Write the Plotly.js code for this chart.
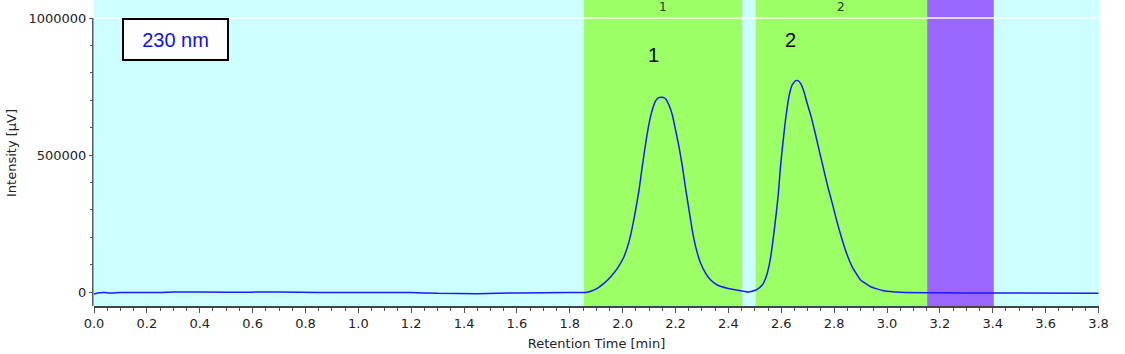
<!DOCTYPE html>
<html>
<head>
<meta charset="utf-8">
<script src="https://cdn.plot.ly/plotly-3.0.1.min.js"></script>
<style>html,body{margin:0;padding:0;background:#fff;}#chart{width:1125px;height:354px;}</style>
</head>
<body>
<div id="chart"></div>
<script>
// Chromatogram values (time in min, intensity in µV)
const retentionTime = [0.00,0.02,0.04,0.06,0.10,0.25,0.30,0.50,0.70,0.85,1.00,1.20,1.30,1.45,1.60,1.80,1.86,
  1.880,1.904,1.929,1.955,1.980,2.005,2.024,2.037,2.049,2.062,2.074,2.087,2.100,2.112,2.125,2.137,2.150,
  2.163,2.175,2.188,2.200,2.213,2.226,2.238,2.251,2.263,2.276,2.295,2.314,2.333,2.358,2.396,2.452,2.476,
  2.490,2.509,2.528,2.541,2.553,2.562,2.572,2.581,2.589,2.597,2.606,2.616,2.629,2.641,2.654,2.663,
  2.673,2.686,2.698,2.713,2.730,2.746,2.761,2.776,2.793,2.809,2.827,2.847,2.868,2.887,2.900,2.938,2.987,3.052,
  3.20,3.40,3.80];
const intensity = [-7000,-3000,-1500,-4000,-2000,-2000,0,-1000,0,-1500,-2000,-2000,-5000,-6000,-3500,-2000,-1500,
  3000,13400,31600,56000,86400,128900,183700,238400,299300,372300,457400,542600,615600,664200,698300,709200,710500,
  704400,682500,646000,591200,530400,457400,378300,299300,226300,165400,104600,68100,43800,25500,13400,3600,0,
  3000,9700,25500,49900,92400,141100,214100,287100,360100,457400,542600,627700,712900,755500,771300,771300,
  761600,731100,688600,639900,573000,506100,445300,384400,323600,262800,201900,141100,92400,62000,43800,19300,4700,-1000,
  -3000,-4000,-4500];

// Peak windows
const peakNames = ["1", "2"];
const peakStart = [1.854, 2.503];
const peakEnd = [2.452, 3.152];
// Region after peaks
const tailStart = [3.152];
const tailEnd = [3.404];

// Peak labels
const peakLabelTime = [2.117, 2.635];
const peakLabelValue = [865000, 920000];

const yTickVals = [0, 500000, 1000000];
const yTickText = ["0", "500000", "1000000"];

const yMin = -51100, yMax = 1065700;

const shapes = [];
for (let i = 0; i < peakStart.length; i++) {
  shapes.push({type:'rect', xref:'x', yref:'paper', x0:peakStart[i], x1:peakEnd[i], y0:0, y1:1,
    fillcolor:'#9cff66', line:{width:0}, layer:'below'});
}
for (let i = 0; i < tailStart.length; i++) {
  shapes.push({type:'rect', xref:'x', yref:'paper', x0:tailStart[i], x1:tailEnd[i], y0:0, y1:1,
    fillcolor:'#9966ff', line:{width:0}, layer:'below'});
}
shapes.push({type:'line', xref:'paper', yref:'y', x0:0, x1:1, y0:1000000, y1:1000000,
  line:{color:'#ffffff', width:1.5}, layer:'below'});
shapes.push({type:'line', xref:'paper', yref:'y', x0:-0.0012, x1:-0.0012, y0:yMin, y1:1000000,
  line:{color:'#555555', width:1.5}, layer:'above'});

const annotations = [];
for (let i = 0; i < peakNames.length; i++) {
  annotations.push({xref:'x', yref:'paper', x:(peakStart[i]+peakEnd[i])/2, y:0.977, text:peakNames[i],
    showarrow:false, xanchor:'center', yanchor:'middle', font:{family:'DejaVu Sans', size:12, color:'#333333'}});
  annotations.push({xref:'x', yref:'y', x:peakLabelTime[i], y:peakLabelValue[i], text:peakNames[i],
    showarrow:false, xanchor:'center', yanchor:'middle', font:{family:'Liberation Sans, Arial', size:20, color:'#000000'}});
}
annotations.push({xref:'paper', yref:'paper', x:0.0811, y:0.871, text:'230 nm', showarrow:false,
  font:{family:'Liberation Sans, Arial', size:20, color:'#1010ee'},
  bgcolor:'#ffffff', bordercolor:'#000000', borderwidth:2, borderpad:0, width:103, height:39,
  xanchor:'center', yanchor:'middle'});

const trace = {x:retentionTime, y:intensity, type:'scatter', mode:'lines',
  line:{color:'#1a1aff', width:1.5, shape:'spline', smoothing:0.4}, hoverinfo:'skip'};

const layout = {
  width:1125, height:354,
  margin:{l:94, r:26, t:0, b:48},
  paper_bgcolor:'#ffffff', plot_bgcolor:'#ccffff',
  showlegend:false,
  font:{family:'DejaVu Sans', size:13, color:'#222222'},
  xaxis:{range:[0, 3.802], dtick:0.2, tick0:0, tickformat:'.1f', showgrid:false, zeroline:false,
    ticks:'outside', ticklen:5, tickcolor:'#555555', tickwidth:1,
    showline:true, linecolor:'#444444', linewidth:1.5,
    minor:{dtick:0.05, tick0:0, ticks:'outside', ticklen:3, tickcolor:'#555555', showgrid:false},
    tickfont:{family:'DejaVu Sans', size:13, color:'#222222'},
    title:{text:'Retention Time [min]', font:{family:'DejaVu Sans', size:13, color:'#222222'}, standoff:9}},
  yaxis:{range:[yMin, yMax], tickvals:yTickVals, ticktext:yTickText, showgrid:false, zeroline:false,
    ticks:'outside', ticklen:4, tickcolor:'#555555', showline:false,
    minor:{tickvals:[100000,200000,300000,400000,600000,700000,800000,900000], ticks:'outside', ticklen:3, tickcolor:'#555555', showgrid:false},
    tickfont:{family:'DejaVu Sans', size:13, color:'#222222'},
    title:{text:'Intensity [µV]', font:{family:'DejaVu Sans', size:13, color:'#222222'}, standoff:8}},
  shapes:shapes,
  annotations:annotations
};

Plotly.newPlot('chart', [trace], layout, {staticPlot:true, displayModeBar:false});
</script>
</body>
</html>
